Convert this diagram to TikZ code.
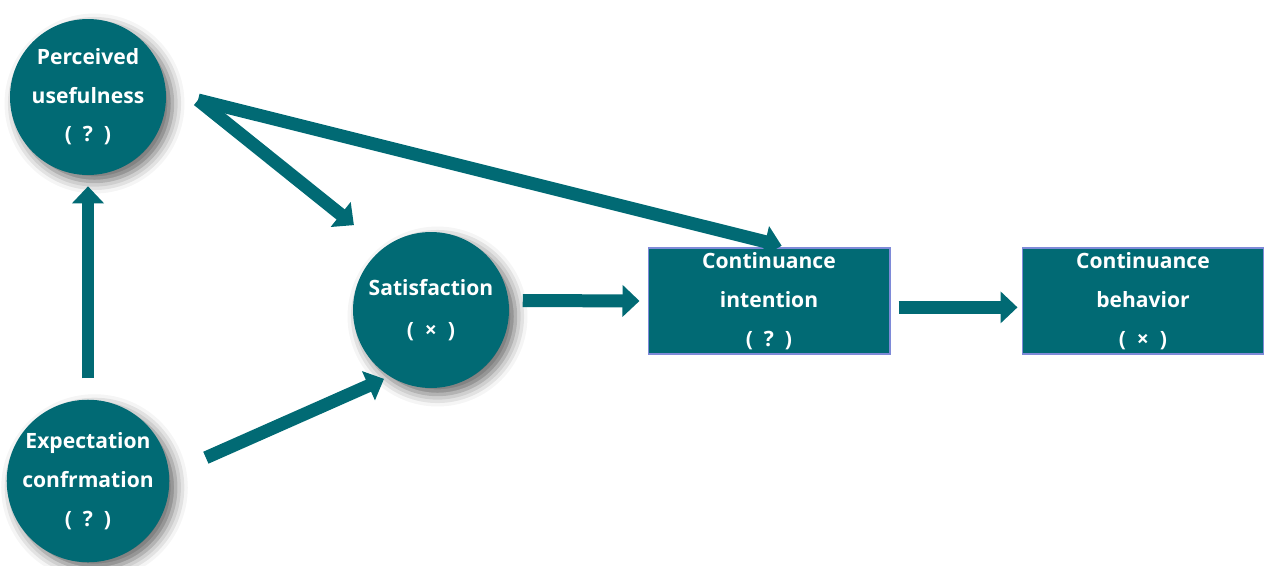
\documentclass[tikz,border=0pt]{standalone}
\usepackage{fontspec}
\setmainfont{Open Sans}
\usetikzlibrary{arrows.meta,shadows.blur}

\definecolor{petrol}{HTML}{016A74}
\definecolor{edgeblue}{HTML}{7E8AD8}

\begin{document}
\begin{tikzpicture}[x=0.02cm, y=-0.02cm,
    concept/.style={circle, fill=petrol, minimum size=3.12cm, inner sep=0pt,
        align=center, text=white, font=\bfseries\fontsize{12}{22}\selectfont,
        blur shadow={shadow xshift=0.13cm, shadow yshift=-0.13cm,
            shadow opacity=60, shadow blur radius=0.24cm}},
    outcome/.style={rectangle, fill=petrol, draw=edgeblue, line width=0.6pt,
        minimum width=4.84cm, minimum height=2.12cm, inner sep=0pt,
        align=center, text=white, font=\bfseries\fontsize{12}{22}\selectfont},
    flow/.style={petrol, line width=0.26cm, -{Triangle[length=0.34cm, width=0.62cm]}}]
    \useasboundingbox (0,0) rectangle (1264,565);

    % Circles
    \node[concept] (pu) at (88,97) {Perceived\\usefulness\\(\ \ ?\ \ )};
    \node[concept] (ec) at (88,481) {Expectation\\confrmation\\(\ \ ?\ \ )};
    \node[concept] (sat) at (431,310) {Satisfaction\\[2pt](\ \ ×\ \ )};

    % Boxes
    \node[outcome] (ci) at (769,301) {Continuance\\intention\\(\ \ ?\ \ )};
    \node[outcome] (cb) at (1143,301) {Continuance\\behavior\\(\ \ ×\ \ )};

    % Split point of the two arrows leaving perceived usefulness
    \coordinate (split) at (198,100);

    % Arrows
    \draw[flow, shorten <=0.42cm, shorten >=0.22cm] (ec) -- (pu);
    \draw[flow, shorten <=0.8cm, shorten >=0.12cm] (ec.5) -- (sat.238);
    \draw[flow, shorten >=0.74cm] (split) -- (sat.128);
    \draw[flow, shorten >=0.14cm] (split) -- (ci.70);
    \draw[flow, shorten <=0.28cm, shorten >=0.16cm] (sat.7) -- (ci.west);
    \draw[flow, shorten <=0.16cm, shorten >=0.08cm] (ci.-3.3) -- (cb.183.3);
\end{tikzpicture}
\end{document}
